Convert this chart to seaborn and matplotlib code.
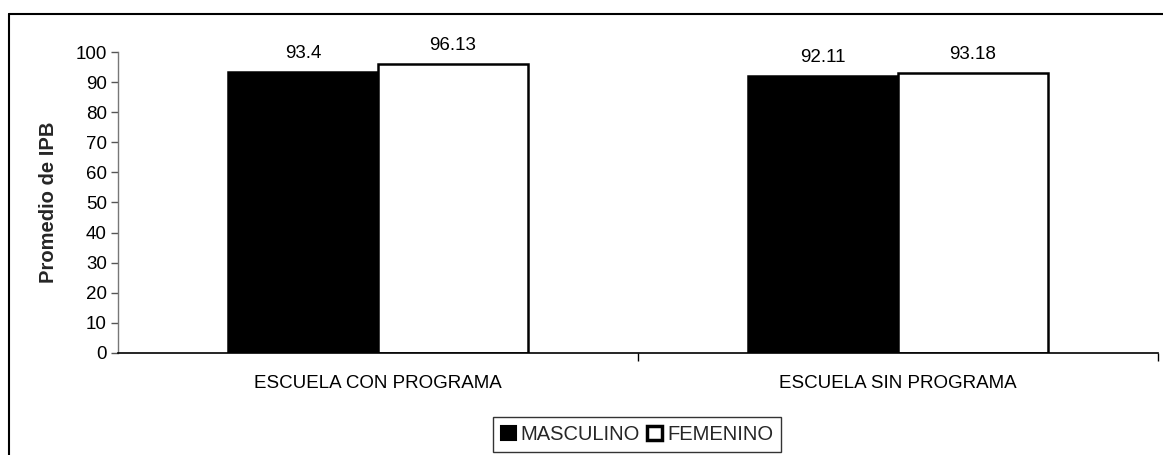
import matplotlib
matplotlib.use("Agg")
import matplotlib.pyplot as plt
from matplotlib.lines import Line2D
from matplotlib.ticker import FixedLocator, NullFormatter
import seaborn as sns
import pandas as pd

categories = ["ESCUELA CON PROGRAMA", "ESCUELA SIN PROGRAMA"]
masculino = [93.4, 92.11]
femenino = [96.13, 93.18]
series_names = ["MASCULINO", "FEMENINO"]
value_labels = [["93.4", "92.11"], ["96.13", "93.18"]]
y_ticks = [0, 10, 20, 30, 40, 50, 60, 70, 80, 90, 100]

df = pd.DataFrame({
    "escuela": categories * 2,
    "sexo": [series_names[0]] * 2 + [series_names[1]] * 2,
    "ipb": masculino + femenino,
})

sns.set_theme(style="white")
plt.rcParams["font.family"] = ["Liberation Sans", "DejaVu Sans"]

fig = plt.figure(figsize=(11.63, 4.55), dpi=100)
ax = fig.add_axes([0.1015, 0.2242, 0.8942, 0.6615])

sns.barplot(data=df, x="escuela", y="ipb", hue="sexo", order=categories,
            hue_order=series_names, palette=["black", "white"],
            edgecolor="black", linewidth=1.8, width=0.577, dodge=True,
            ax=ax, legend=False)

for container, labels in zip(ax.containers, value_labels):
    ax.bar_label(container, labels=labels, padding=7, fontsize=13.5, color="black")

ax.set_xlim(-0.5, 1.5)
ax.set_ylim(0, 100)
ax.set_yticks(y_ticks)
ax.tick_params(axis="y", direction="out", length=5, width=1, color="#555555",
               labelsize=13.5, pad=3, left=True, labelcolor="black")
ax.tick_params(axis="x", which="major", length=0, labelsize=13.5, pad=16,
               labelcolor="black")
ax.xaxis.set_minor_locator(FixedLocator([0.5, 1.5]))
ax.xaxis.set_minor_formatter(NullFormatter())
ax.tick_params(axis="x", which="minor", direction="out", length=6, width=1,
               color="black", bottom=True)

ax.set_xlabel("")
ax.set_ylabel("Promedio de IPB", fontsize=14.5, fontweight="bold", labelpad=13)
for side in ["top", "right"]:
    ax.spines[side].set_visible(False)
ax.spines["left"].set_color("#777777")
ax.spines["left"].set_linewidth(1)
ax.spines["bottom"].set_color("black")
ax.spines["bottom"].set_linewidth(1.2)

handles = [plt.Rectangle((0, 0), 1, 1, facecolor="black", edgecolor="black", linewidth=1.5),
           plt.Rectangle((0, 0), 1, 1, facecolor="white", edgecolor="black", linewidth=2.5)]
leg = fig.legend(handles, series_names, loc="center", bbox_to_anchor=(637 / 1163, 1 - 434.5 / 455),
                 ncol=2, frameon=True, fancybox=False, fontsize=14.5,
                 handlelength=0.75, handleheight=0.75, handletextpad=0.25,
                 columnspacing=0.35, borderpad=0.4, borderaxespad=0, edgecolor="black")
leg.get_frame().set_linewidth(1)

# outer chart frame (top and left edges)
fig.add_artist(Line2D([9 / 1163, 1.0], [1 - 14 / 455, 1 - 14 / 455],
                      transform=fig.transFigure, color="black", linewidth=1.5))
fig.add_artist(Line2D([9 / 1163, 9 / 1163], [0.0, 1 - 14 / 455],
                      transform=fig.transFigure, color="black", linewidth=1.5))

fig.savefig("out.png", dpi=100, facecolor="white")
